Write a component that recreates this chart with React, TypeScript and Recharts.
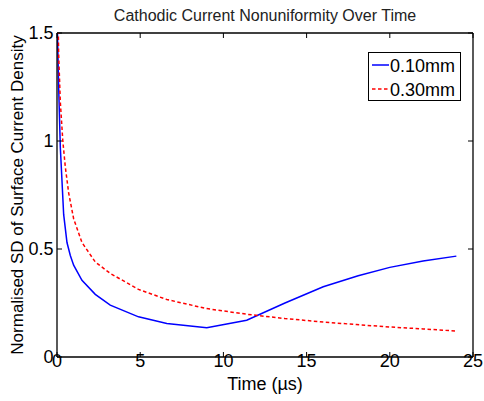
import { LineChart, Line, XAxis, YAxis, Legend, Label, ReferenceLine } from "recharts";

const FONT = "'Liberation Sans', Arial, Helvetica, sans-serif";

// 0.10mm electrode gap
const timeThin = [0, 0.1, 0.2, 0.4, 0.6, 0.8, 1.0, 1.5, 2.3, 3.2, 4.9, 6.6, 9.0, 11.4, 13.7, 16.0, 18.1, 20.0, 22.0, 24.0];
const sdThin = [1.6, 1.25, 0.97, 0.66, 0.53, 0.47, 0.425, 0.355, 0.29, 0.24, 0.186, 0.155, 0.136, 0.17, 0.25, 0.325, 0.376, 0.415, 0.444, 0.467];

// 0.30mm electrode gap
const timeThick = [0, 0.1, 0.2, 0.35, 0.5, 0.7, 1.0, 1.5, 2.3, 3.2, 4.9, 6.6, 9.0, 11.4, 13.7, 16.0, 18.0, 20.0, 22.0, 24.0];
const sdThick = [1.9, 1.4, 1.18, 1.0, 0.88, 0.76, 0.64, 0.53, 0.44, 0.387, 0.313, 0.266, 0.224, 0.198, 0.178, 0.162, 0.15, 0.139, 0.13, 0.12];

const xTicks = [0, 5, 10, 15, 20, 25];
const yTicks = [0, 0.5, 1, 1.5];

const seriesNames = ["0.10mm", "0.30mm"];

const thinData = timeThin.map((t, i) => ({ t, v: sdThin[i] }));
const thickData = timeThick.map((t, i) => ({ t, v: sdThick[i] }));

// plot box (matlab style, ticks inside on all four sides)
const W = 484;
const H = 401;
const M = { top: 33, right: 11, left: 0, bottom: 0 };
const Y_AXIS_W = 57;
const X_AXIS_H = 44;
const PL = M.left + Y_AXIS_W;
const PR = W - M.right;
const PT = M.top;
const PB = H - M.bottom - X_AXIS_H;
const TICK = 5;

function XTick(props: any) {
  const { x, payload } = props;
  return (
    <g>
      <line x1={x} x2={x} y1={PB} y2={PB - TICK} stroke="#000" />
      <line x1={x} x2={x} y1={PT} y2={PT + TICK} stroke="#000" />
      <text x={x} y={PB + 10} textAnchor="middle" fontSize={18} fontFamily={FONT} fill="#000">
        {payload.value}
      </text>
    </g>
  );
}

function YTick(props: any) {
  const { y, payload } = props;
  return (
    <g>
      <line x1={PL} x2={PL + TICK} y1={y} y2={y} stroke="#000" />
      <line x1={PR} x2={PR - TICK} y1={y} y2={y} stroke="#000" />
      <text x={PL - 3.5} y={y + 6.4} textAnchor="end" fontSize={18} fontFamily={FONT} fill="#000">
        {payload.value}
      </text>
    </g>
  );
}

function LegendBox() {
  return (
    <svg width={93} height={49} style={{ display: "block" }}>
      <rect x={0.5} y={0.5} width={92} height={48} fill="#fff" stroke="#000" strokeWidth={1} />
      <line x1={4} x2={21} y1={13} y2={13} stroke="#0000ff" strokeWidth={1.5} />
      <line x1={4} x2={21} y1={37} y2={37} stroke="#ff0000" strokeWidth={1.5} strokeDasharray="3.5 2.5" />
      <text x={22} y={19.5} fontSize={18} fontFamily={FONT} fill="#000">
        {seriesNames[0]}
      </text>
      <text x={22} y={43.5} fontSize={18} fontFamily={FONT} fill="#000">
        {seriesNames[1]}
      </text>
    </svg>
  );
}

export default function App() {
  return (
    <div style={{ position: "absolute", left: 0, top: 0, width: W, height: H, background: "#fff" }}>
      <svg width={W} height={30} style={{ position: "absolute", left: 0, top: 0 }}>
        <text x={(PL + PR) / 2} y={20.5} textAnchor="middle" fontSize={16} fontFamily={FONT} fill="#222">
          Cathodic Current Nonuniformity Over Time
        </text>
      </svg>
      <LineChart width={W} height={H} margin={M}>
        <XAxis
          dataKey="t"
          type="number"
          domain={[0, 25]}
          ticks={xTicks}
          allowDataOverflow
          height={X_AXIS_H}
          tickLine={false}
          tick={(p: any) => <XTick {...p} />}
          axisLine={{ stroke: "#000", strokeWidth: 1.3 }}
        >
          <Label
            value="Time (µs)"
            position="insideBottom"
            offset={11}
            style={{ fontSize: 18, fontFamily: FONT, fill: "#000" }}
          />
        </XAxis>
        <YAxis
          type="number"
          domain={[0, 1.5]}
          ticks={yTicks}
          allowDataOverflow
          width={Y_AXIS_W}
          tickLine={false}
          tick={(p: any) => <YTick {...p} />}
          axisLine={{ stroke: "#000", strokeWidth: 1.3 }}
        >
          <Label
            value="Normalised SD of Surface Current Density"
            angle={-90}
            position="insideLeft"
            offset={17}
            style={{ fontSize: 17, fontFamily: FONT, fill: "#000", textAnchor: "middle" }}
          />
        </YAxis>
        <ReferenceLine y={1.5} stroke="#000" strokeWidth={1.3} ifOverflow="visible" />
        <ReferenceLine x={25} stroke="#000" strokeWidth={1.3} ifOverflow="visible" />
        <Legend
          layout="horizontal"
          verticalAlign="middle"
          align="center"
          wrapperStyle={{ left: 368, top: 52, width: 93, height: 49 }}
          content={() => <LegendBox />}
        />
        <Line
          data={thinData}
          dataKey="v"
          name={seriesNames[0]}
          type="linear"
          stroke="#0000ff"
          strokeWidth={1.5}
          dot={false}
          isAnimationActive={false}
        />
        <Line
          data={thickData}
          dataKey="v"
          name={seriesNames[1]}
          type="linear"
          stroke="#ff0000"
          strokeWidth={1.5}
          strokeDasharray="3.5 2.5"
          dot={false}
          isAnimationActive={false}
        />
      </LineChart>
    </div>
  );
}
